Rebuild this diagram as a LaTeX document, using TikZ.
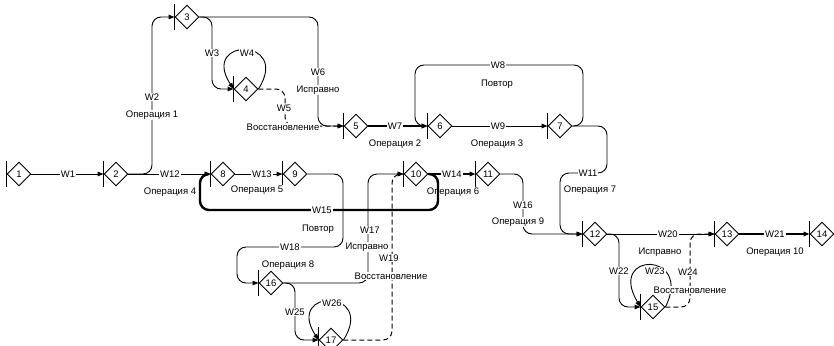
\documentclass[tikz,border=0pt]{standalone}
\usepackage{fontspec}
\setmainfont{Liberation Sans}
\usepackage{tikz}
\usetikzlibrary{shapes.geometric,arrows.meta}

\tikzset{
  event/.style={diamond,draw,aspect=1,minimum size=24pt,inner sep=0pt,
    line width=0.9pt,font=\fontsize{9.5}{11}\selectfont},
  lbl/.style={fill=white,inner sep=0.8pt,font=\fontsize{9.5}{11}\selectfont},
  conn/.style={->,line width=0.9pt,rounded corners=9pt},
  heavy/.style={conn,line width=2.4pt},
  recov/.style={conn,line width=1pt,dash pattern=on 5pt off 3pt},
}

\begin{document}
\begin{tikzpicture}[x=1pt,y=-1pt,>={Triangle[length=6pt,width=4.5pt]}]
  \useasboundingbox (0,0) rectangle (834,345);
  % events
  \node[event] (n1) at (19,174) {1};
  \node[event] (n2) at (116,174) {2};
  \node[event] (n3) at (187,17) {3};
  \node[event] (n4) at (246,89) {4};
  \node[event] (n5) at (356,126) {5};
  \node[event] (n6) at (440,126) {6};
  \node[event] (n7) at (560,126) {7};
  \node[event] (n8) at (223,174) {8};
  \node[event] (n9) at (295,174) {9};
  \node[event] (n10) at (416,174) {10};
  \node[event] (n11) at (488,174) {11};
  \node[event] (n12) at (595,234) {12};
  \node[event] (n13) at (727,234) {13};
  \node[event] (n14) at (822,234) {14};
  \node[event] (n15) at (653,307) {15};
  \node[event] (n16) at (271,283) {16};
  \node[event] (n17) at (331,340) {17};
  % input bars
  \foreach \n in {1,...,17}
    \draw[line width=0.9pt] ([yshift=13pt]n\n.west) -- ([yshift=-13pt]n\n.west);

  % works
  \draw[conn] (n1.east) -- (n2.west);                          % W1
  \draw[conn] (n2.east) -| (152,17) -- (n3.west);              % W2
  \draw[conn] (n3.east) -| (212,89) -- (n4.west);              % W3
  \draw[conn] (n4.east) .. controls +(33,-52) and +(-34,-52) .. (n4.west); % W4
  \draw[recov] (n4.east) -| (285,126) -- (n5.west);            % W5
  \draw[conn] (n3.east) -| (318,126) -- (n5.west);             % W6
  \draw[heavy] (n5.east) -- (n6.west);                         % W7
  \draw[conn] (n7.east) -| (583,65) -| (415,126) -- (n6.west); % W8
  \draw[conn] (n6.east) -- (n7.west);                          % W9
  \draw[conn] (n7.east) -| (607,173) -| (560,234) -- (n12.west); % W11
  \draw[conn] (n2.east) -- (n8.west);                          % W12
  \draw[conn] (n8.east) -- (n9.west);                          % W13
  \draw[heavy] (n10.east) -- (n11.west);                       % W14
  \draw[heavy] (n10.east) -| (438,210) -| (200,174) -- (n8.west); % W15
  \draw[conn] (n11.east) -| (523,234) -- (n12.west);           % W16
  \draw[conn] (n16.east) -| (368,174) -- (n10.west);           % W17
  \draw[conn] (n9.east) -| (343,247) -| (237,283) -- (n16.west); % W18
  \draw[recov] (n17.east) -| (392,174) -- (n10.west);          % W19
  \draw[conn] (n12.east) -- (n13.west);                        % W20
  \draw[heavy] (n13.east) -- (n14.west);                       % W21
  \draw[conn] (n12.east) -| (619,307) -- (n15.west);           % W22
  \draw[conn] (n15.east) .. controls +(28,-56) and +(-34,-56) .. (n15.west); % W23
  \draw[recov] (n15.east) -| (690,234) -- (n13.west);          % W24
  \draw[conn] (n16.east) -| (295,340) -- (n17.west);           % W25
  \draw[conn] (n17.east) .. controls +(33,-52) and +(-34,-52) .. (n17.west); % W26

  % labels
  \node[lbl] (w1) at (68,174) {W1};
  \node[lbl] (w2) at (152,97) {W2};
  \node[lbl] (o1) at (152,115) {Операция 1};
  \node[lbl] (w3) at (212,53) {W3};
  \node[lbl] (w4) at (247,53) {W4};
  \node[lbl] (w5) at (284,108) {W5};
  \node[lbl] (r5) at (283,127) {Восстановление};
  \node[lbl] (w6) at (318,72) {W6};
  \node[lbl] (i6) at (318,90) {Исправно};
  \node[lbl] (w7) at (395,126) {W7};
  \node[lbl] (o2) at (395,144) {Операция 2};
  \node[lbl] (w8) at (498,65) {W8};
  \node[lbl] (p8) at (497,84) {Повтор};
  \node[lbl] (w9) at (498,126) {W9};
  \node[lbl] (o3) at (497,144) {Операция 3};
  \node[lbl] (w11) at (588,173) {W11};
  \node[lbl] (o7) at (590,190) {Операция 7};
  \node[lbl] (w12) at (170,174) {W12};
  \node[lbl] (o4) at (170,192) {Операция 4};
  \node[lbl] (w13) at (262,174) {W13};
  \node[lbl] (o5) at (257,190) {Операция 5};
  \node[lbl] (w14) at (452,174) {W14};
  \node[lbl,fill=none] (o6) at (453,192) {Операция 6};
  \node[lbl] (w15) at (322,210) {W15};
  \node[lbl] (p15) at (318,229) {Повтор};
  \node[lbl] (w16) at (523,205) {W16};
  \node[lbl] (o9) at (518,222) {Операция 9};
  \node[lbl] (w17) at (370,230) {W17};
  \node[lbl] (i17) at (367,247) {Исправно};
  \node[lbl] (w18) at (290,247) {W18};
  \node[lbl] (o8) at (288,265) {Операция 8};
  \node[lbl] (w19) at (389,258) {W19};
  \node[lbl] (r19) at (391,276) {Восстановление};
  \node[lbl] (w20) at (668,234) {W20};
  \node[lbl] (i20) at (660,252) {Исправно};
  \node[lbl] (w21) at (775,234) {W21};
  \node[lbl] (o10) at (775,252) {Операция 10};
  \node[lbl] (w22) at (619,271) {W22};
  \node[lbl] (w23) at (655,271) {W23};
  \node[lbl] (w24) at (688,272) {W24};
  \node[lbl] (r24) at (690,290) {Восстановление};
  \node[lbl] (w25) at (295,312) {W25};
  \node[lbl] (w26) at (332,303) {W26};
\end{tikzpicture}
\end{document}
